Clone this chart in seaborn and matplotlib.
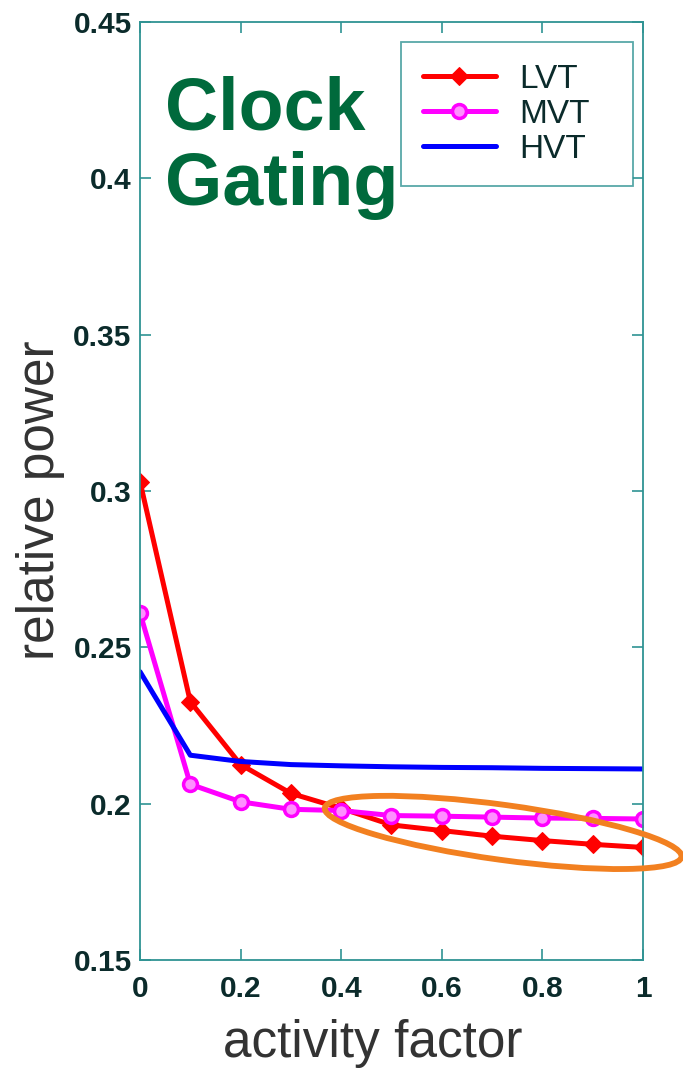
import numpy as np
import pandas as pd
import matplotlib
matplotlib.use("Agg")
import matplotlib.pyplot as plt
import matplotlib.transforms as mtransforms
from matplotlib.patches import Ellipse
import seaborn as sns

# --------------------------------------------------
# Data
# --------------------------------------------------

activity = [0.0, 0.1, 0.2, 0.3, 0.4, 0.5, 0.6, 0.7, 0.8, 0.9, 1.0]

lvt_power = [0.303, 0.2326, 0.2125, 0.2033, 0.1985, 0.1932, 0.1914,
             0.1896, 0.1882, 0.1870, 0.1860]
mvt_power = [0.261, 0.2062, 0.2006, 0.1982, 0.1978, 0.1962, 0.1960,
             0.1957, 0.1954, 0.1953, 0.1951]
hvt_power = [0.2422, 0.2155, 0.2135, 0.2125, 0.2121, 0.2118, 0.2116,
             0.2115, 0.2113, 0.2112, 0.2111]

x_ticks = [0, 0.2, 0.4, 0.6, 0.8, 1.0]
x_tick_labels = ["0", "0.2", "0.4", "0.6", "0.8", "1"]
y_ticks = [0.15, 0.2, 0.25, 0.3, 0.35, 0.4, 0.45]
y_tick_labels = ["0.15", "0.2", "0.25", "0.3", "0.35", "0.4", "0.45"]

df = pd.DataFrame({
    "activity": activity,
    "LVT": lvt_power,
    "MVT": mvt_power,
    "HVT": hvt_power,
})

# --------------------------------------------------
# Style
# --------------------------------------------------

sns.set_style("ticks")
plt.rcParams["font.family"] = ["Liberation Sans", "DejaVu Sans"]

teal = "#2f9393"
tick_color = "#0b2b2b"

fig = plt.figure(figsize=(6.83, 10.73), dpi=100)
ax = fig.add_axes([0.205, 0.1053, 0.7364, 0.8742])

# --------------------------------------------------
# Lines
# --------------------------------------------------

sns.lineplot(
    data=df, x="activity", y="LVT", ax=ax,
    color="#ff0000", linewidth=3.6,
    marker="D", markersize=9, markeredgecolor="#ff0000",
    markerfacecolor="#ff0000", label="LVT"
)

sns.lineplot(
    data=df, x="activity", y="MVT", ax=ax,
    color="#ff00ff", linewidth=3.6,
    marker="o", markersize=10, markeredgewidth=2.5,
    markeredgecolor="#ff00ff", markerfacecolor="#ff90ff",
    label="MVT"
)

sns.lineplot(
    data=df, x="activity", y="HVT", ax=ax,
    color="#0000ff", linewidth=3.6, label="HVT"
)

# --------------------------------------------------
# Axes
# --------------------------------------------------

ax.set_xlim(0, 1)
ax.set_ylim(0.15, 0.45)

ax.set_xticks(x_ticks)
ax.set_xticklabels(x_tick_labels)
ax.set_yticks(y_ticks)
ax.set_yticklabels(y_tick_labels)

ax.tick_params(
    direction="in", length=8, width=1.2, color=teal,
    top=True, right=True, labelsize=21.5, labelcolor=tick_color, pad=6
)
ax.tick_params(axis="x", pad=11)
for label in ax.get_xticklabels() + ax.get_yticklabels():
    label.set_fontweight("bold")

for spine in ax.spines.values():
    spine.set_visible(True)
    spine.set_color(teal)
    spine.set_linewidth(1.3)

ax.set_xlabel("activity factor", fontsize=37, color="#333333")
ax.set_ylabel("relative power", fontsize=37, color="#333333")
ax.xaxis.set_label_coords(0.463, -0.063)
ax.yaxis.set_label_coords(-0.15, 0.49)

# --------------------------------------------------
# Legend
# --------------------------------------------------

leg = ax.legend(
    loc="upper left",
    bbox_to_anchor=(0.519, 0.5, 0.461, 0.4787),
    mode="expand",
    borderaxespad=0,
    fontsize=24,
    handlelength=2.2,
    labelspacing=0.12,
    fancybox=False,
    frameon=True,
    borderpad=0.65,
    handletextpad=0.7,
)
leg.get_frame().set_edgecolor(teal)
leg.get_frame().set_linewidth(1.3)
for text in leg.get_texts():
    text.set_color(tick_color)

# --------------------------------------------------
# Annotations
# --------------------------------------------------

ax.text(
    0.05, 0.943, "Clock\nGating",
    transform=ax.transAxes,
    fontsize=53, fontweight="bold", color="#006a3c",
    ha="left", va="top", linespacing=1.12
)

ellipse_transform = fig.dpi_scale_trans + mtransforms.ScaledTranslation(
    0.722, 0.1908, ax.transData
)
ring = Ellipse(
    (0, 0), width=3.6, height=0.55, angle=-7.8,
    fill=False, edgecolor="#f28020", linewidth=4.2,
    transform=ellipse_transform, clip_on=False, zorder=5
)
ax.add_patch(ring)

fig.savefig("out.png", dpi=100)
plt.close(fig)
